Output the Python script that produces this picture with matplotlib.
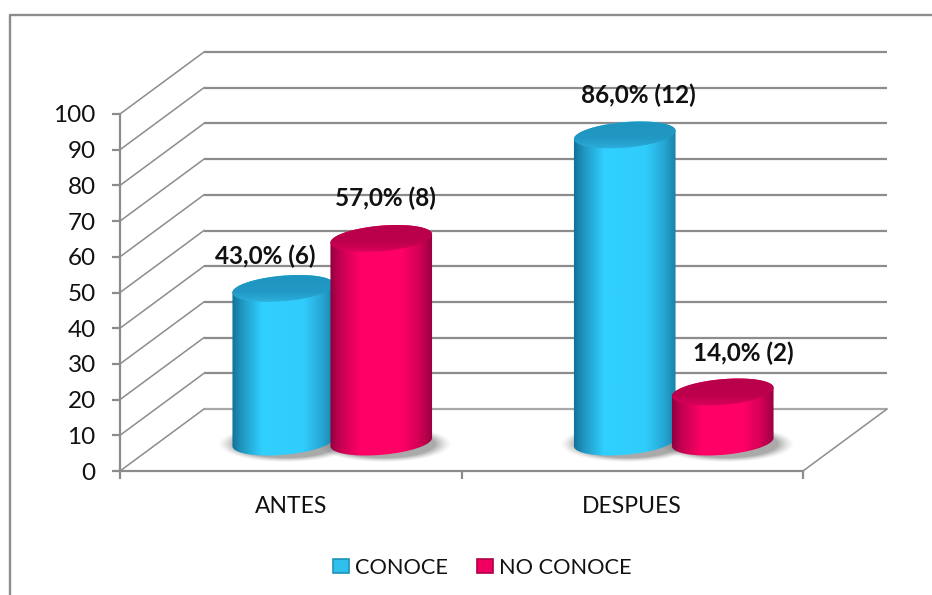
import numpy as np
import matplotlib
matplotlib.use("Agg")
import matplotlib.pyplot as plt
from matplotlib.lines import Line2D
from matplotlib.patches import Patch, PathPatch
from matplotlib.path import Path
from matplotlib.transforms import Affine2D, IdentityTransform
from matplotlib.colors import LinearSegmentedColormap

# ---- data
categories = ["ANTES", "DESPUES"]
series_names = ["CONOCE", "NO CONOCE"]
conoce_pct = [43.0, 86.0]
noconoce_pct = [57.0, 14.0]
conoce_n = [6, 12]
noconoce_n = [8, 2]
y_ticks = list(range(0, 101, 10))

# ---- style / layout
W, H = 932, 595
GRID = "#8c8c8c"
BLUE_SIDE = [(0, "#0f6f95"), (0.1, "#1f95bf"), (0.3, "#30d0ff"), (0.7, "#30ccfc"),
             (0.88, "#26a6d4"), (1, "#197fa4")]
RED_SIDE = [(0, "#88003f"), (0.1, "#c40050"), (0.3, "#ff0066"), (0.7, "#ff0066"),
            (0.88, "#cf0055"), (1, "#96003f")]
BLUE_CAP = [(0, "#1f95bf"), (0.6, "#2199c4"), (0.82, "#2aa9d6"), (1, "#36d2ff")]
RED_CAP = [(0, "#b8004a"), (0.6, "#bd004c"), (0.82, "#d40058"), (1, "#ff0c70")]
FONT = "Lato"

plt.rcParams["font.family"] = FONT
fig = plt.figure(figsize=(W / 100, H / 100), dpi=100, facecolor="white")
ax = fig.add_axes([120 / W, 1 - 471 / H, 683 / W, 357 / H], facecolor="none")
ax.set_xlim(0, 2)
ax.set_ylim(0, 100)

back = ax.transData + Affine2D().translate(84, 62)
mid = ax.transData + Affine2D().translate(41.5, 29)

# outer frame (left and top only are visible)
fig.add_artist(Line2D([9.5 / W, 9.5 / W, 1], [0, 1 - 14.5 / H, 1 - 14.5 / H],
                      color=GRID, lw=1.7, transform=fig.transFigure))

# walls and gridlines
for v in y_ticks:
    shade = "#a8a8a8" if v == 0 else GRID
    ax.plot([0, 2], [v, v], color=shade, lw=1.6, transform=back,
            clip_on=False, zorder=1, solid_capstyle="butt")
    p0 = ax.transData.transform((0, v))
    p1 = back.transform((0, v))
    ax.plot([p0[0], p1[0]], [p0[1], p1[1]], color=GRID, lw=1.1,
            transform=IdentityTransform(), clip_on=False, zorder=1)
p0 = ax.transData.transform((2, 0))
p1 = back.transform((2, 0))
ax.plot([p0[0], p1[0]], [p0[1], p1[1]], color=GRID, lw=1.1,
        transform=IdentityTransform(), clip_on=False, zorder=1)

# axes
for s in ("top", "right"):
    ax.spines[s].set_visible(False)
for s in ("left", "bottom"):
    ax.spines[s].set_color(GRID)
    ax.spines[s].set_linewidth(1.6)
    ax.spines[s].set_zorder(2)
ax.set_yticks(y_ticks)
ax.set_xticks([0, 1, 2])
ax.set_xticklabels([])
ax.set_xticks([0.5, 1.5], minor=True)
ax.set_xticklabels(categories, minor=True, fontsize=16.5, color="#111111")
ax.tick_params(axis="x", which="major", length=5.5, width=1.6, color=GRID)
ax.tick_params(axis="x", which="minor", length=0, pad=18)
ax.tick_params(axis="y", length=5.5, width=1.6, color=GRID, pad=12,
               labelsize=17.5, labelcolor="#111111")

# cylinders
RX, RY, TILT = 51.0, 12.8, np.deg2rad(5.0)
GROUP_OFF = 49 / 683 * 2


def ellipse_pts(cx, cy, t):
    ex = RX * np.cos(t)
    ey = RY * np.sin(t)
    return (cx + ex * np.cos(TILT) - ey * np.sin(TILT),
            cy + ex * np.sin(TILT) + ey * np.cos(TILT))


def grad_image(colors, extent, clip, z, vertical=False):
    cmap = LinearSegmentedColormap.from_list("c", colors)
    g = np.linspace(0, 1, 256)
    arr = g[:, None] if vertical else g[None, :]
    im = ax.imshow(arr, cmap=cmap, extent=extent, origin="lower", aspect="auto",
                   transform=IdentityTransform(), zorder=z,
                   interpolation="bilinear")
    im.set_clip_path(clip)


def shadow(cx, cy, z):
    x = np.linspace(cx - 90, cx + 90, 180)
    y = np.linspace(cy - 40, cy + 40, 80)
    xx, yy = np.meshgrid(x, y)
    d = np.sqrt(((xx - cx - 3) / (RX + 7)) ** 2 + ((yy - cy + 2) / (RY + 3)) ** 2)
    a = np.clip((1.18 - d) / 0.3, 0, 1) ** 1.4 * 0.6
    rgba = np.zeros(xx.shape + (4,))
    rgba[..., :3] = 0.45
    rgba[..., 3] = a
    ax.imshow(rgba, extent=(x[0], x[-1], y[0], y[-1]), origin="lower",
              aspect="auto", transform=IdentityTransform(), zorder=z)


def cylinder(xc, value, side, cap, z):
    bx, by = mid.transform((xc, 0))
    tx, ty = mid.transform((xc, value))
    shadow(bx, by, 2)
    lower = ellipse_pts(bx, by, np.linspace(np.pi, 2 * np.pi, 80))
    upper = ellipse_pts(tx, ty, np.linspace(0, np.pi, 80))
    verts = np.column_stack([np.r_[lower[0], upper[0]], np.r_[lower[1], upper[1]]])
    body = PathPatch(Path(np.vstack([verts, verts[0]]), closed=True),
                     transform=IdentityTransform(), fc="none", ec="none")
    ax.add_patch(body)
    grad_image(side, (bx - RX - 1, bx + RX + 1, by - RY - 8, ty + RY + 8), body, z)
    cx_, cy_ = ellipse_pts(tx, ty, np.linspace(0, 2 * np.pi, 120))
    top = PathPatch(Path(np.column_stack([cx_, cy_]), closed=False),
                    transform=IdentityTransform(), fc="none", ec="none")
    ax.add_patch(top)
    grad_image([(1 - p, c) for p, c in cap[::-1]],
               (tx - RX - 1, tx + RX + 1, ty - RY - 5, ty + RY + 5),
               top, z + 0.1, vertical=True)


pos = np.array([0.5, 1.5])
for xc, v in zip(pos - GROUP_OFF, conoce_pct):
    cylinder(xc, v, BLUE_SIDE, BLUE_CAP, 3)
for xc, v in zip(pos + GROUP_OFF, noconoce_pct):
    cylinder(xc, v, RED_SIDE, RED_CAP, 4)

ax.set_xlim(0, 2)
ax.set_ylim(0, 100)
ax.set_aspect("auto")

# data labels (pixel offsets from each cylinder's top centre)
label_off = {0: [(-18, 32), (14, 40)], 1: [(4, 40), (21, 39)]}
for s, (xs, vals, counts) in enumerate([(pos - GROUP_OFF, conoce_pct, conoce_n),
                                        (pos + GROUP_OFF, noconoce_pct, noconoce_n)]):
    for i, (xc, v, n) in enumerate(zip(xs, vals, counts)):
        txt = f"{v:.1f}".replace(".", ",") + f"% ({n})"
        ax.annotate(txt, xy=(xc, v), xycoords=mid, xytext=label_off[s][i],
                    textcoords="offset pixels", ha="center", va="center",
                    fontsize=17.5, fontweight="bold", color="#111111", zorder=6,
                    annotation_clip=False)

# legend
handles = [Patch(fc="#2fc0ee", ec="#1f93bb", lw=1.2, label=series_names[0]),
           Patch(fc="#f00060", ec="#b00048", lw=1.2, label=series_names[1])]
fig.legend(handles=handles, loc="center", bbox_to_anchor=(482 / W, 1 - 567.5 / H),
           ncol=2, frameon=False, fontsize=15.7, handlelength=0.73, handleheight=0.64,
           handletextpad=0.28, columnspacing=1.33, labelcolor="#111111")

fig.savefig("out.png", dpi=100, facecolor="white")
